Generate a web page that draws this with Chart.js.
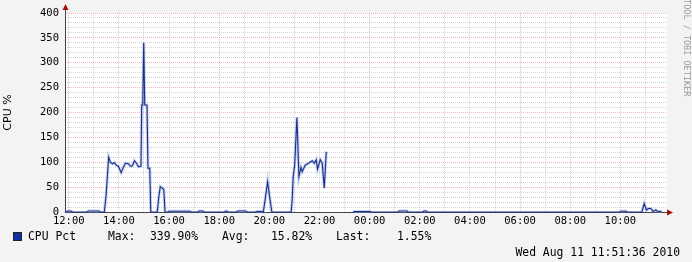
<!DOCTYPE html>
<html lang="en">
<head>
<meta charset="UTF-8">
<title>CPU Pct</title>
<script src="https://cdn.jsdelivr.net/npm/chart.js@4"></script>
<style>
  html, body { margin: 0; padding: 0; background: #f3f3f3; }
  canvas { display: block; }
</style>
</head>
<body>
<canvas id="cpuChart" width="692" height="262"></canvas>
<script>
  // hours after 12:00 (Aug 10) and CPU %, null = no data
  const hours = [
    -0.15, -0.01, 0.07, 0.15, 0.72, 0.79, 1.19, 1.27, 1.42, 1.49,
    1.59, 1.66, 1.74, 1.82, 1.90, 1.98, 2.09, 2.18, 2.26, 2.38,
    2.46, 2.54, 2.62, 2.70, 2.78, 2.88, 2.91, 2.95, 2.99, 3.03,
    3.12, 3.16, 3.23, 3.27, 3.53, 3.59, 3.65, 3.73, 3.79, 3.84,
    3.97, 4.01, 4.81, 4.89, 5.13, 5.21, 5.33, 5.41, 6.20, 6.28,
    6.36, 6.68, 6.76, 7.04, 7.12, 7.44, 7.52, 7.72, 7.76, 7.85,
    7.93, 8.01, 8.10, 8.87, 8.91, 8.95, 9.01, 9.10, 9.18, 9.26,
    9.31, 9.43, 9.56, 9.71, 9.79, 9.87, 9.92, 10.03, 10.11, 10.19,
    10.27, 10.8, 11.34, 11.38, 12.02, 12.06, 13.14, 13.18, 13.49, 13.53,
    14.13, 14.17, 14.25, 14.29, 21.98, 22.02, 22.22, 22.26, 22.86, 22.95,
    23.04, 23.12, 23.22, 23.30, 23.41, 23.49, 23.65
  ];
  const cpuPct = [
    0, 2, 2, 0, 0, 2, 2, 0, 0, 34,
    110, 100, 97, 99, 94, 92, 79, 90, 98, 97,
    92, 93, 103, 98, 91, 92, 215, 215, 340, 215,
    215, 88, 88, 0, 0, 30, 51, 48, 45, 0,
    0, 1.5, 1.5, 0, 0, 2, 2, 0, 0, 2,
    0, 0, 2, 2, 0, 0, 1, 1, 0, 31,
    61, 31, 0, 0, 24, 71, 94, 190, 71, 90,
    81, 94, 98, 103, 98, 105, 86, 105, 98, 48,
    121, null, 0, 1, 1, 0, 0, 2, 2, 0,
    0, 2, 2, 0, 0, 1.5, 1.5, 0, 0, 17,
    4, 7, 7, 1, 4, 1, 1.55
  ];
  const tickLabels = ['12:00', '14:00', '16:00', '18:00', '20:00', '22:00',
                      '00:00', '02:00', '04:00', '06:00', '08:00', '10:00'];
  const seriesName = 'CPU Pct';
  const legendStats = [['Max:', '339.90%'], ['Avg:', '15.82%'], ['Last:', '1.55%']];
  const stamp = 'Wed Aug 11 11:51:36 2010';

  const points = hours.map((h, i) => ({ x: h, y: cpuPct[i] }));
  const minorGrid = 'rgba(175,175,175,0.55)';
  const majorGrid = 'rgba(215,120,120,0.5)';
  const mono = "'DejaVu Sans Mono', monospace";

  Chart.defaults.font.family = mono;
  Chart.defaults.color = '#000';

  const rrdLook = {
    id: 'rrdLook',
    beforeDraw(chart) {
      const c = chart.ctx, a = chart.chartArea;
      c.save();
      c.fillStyle = '#f3f3f3';
      c.fillRect(0, 0, chart.width, chart.height);
      c.fillStyle = '#ffffff';
      c.fillRect(a.left, a.top, a.right - a.left, a.bottom - a.top);
      c.restore();
    },
    beforeDatasetsDraw(chart) {
      const c = chart.ctx, a = chart.chartArea;
      const x0 = Math.round(a.left) + 0.5, y0 = Math.round(a.bottom) + 0.5;
      c.save();
      c.strokeStyle = '#444';
      c.lineWidth = 1;
      c.beginPath();
      c.moveTo(x0, y0); c.lineTo(a.right + 2, y0);
      c.moveTo(x0, y0); c.lineTo(x0, a.top - 4);
      c.stroke();
      c.fillStyle = '#a01010';
      c.beginPath();
      c.moveTo(x0, a.top - 9); c.lineTo(x0 - 3, a.top - 3); c.lineTo(x0 + 3, a.top - 3);
      c.closePath(); c.fill();
      c.beginPath();
      c.moveTo(a.right + 6, y0); c.lineTo(a.right, y0 - 3); c.lineTo(a.right, y0 + 3);
      c.closePath(); c.fill();
      c.restore();
    },
    afterDraw(chart) {
      const c = chart.ctx;
      c.save();
      // legend
      c.fillStyle = '#1030a8';
      c.fillRect(13, 232, 9, 9);
      c.strokeStyle = '#202020';
      c.lineWidth = 1;
      c.strokeRect(13.5, 232.5, 8, 8);
      c.fillStyle = '#000';
      c.font = '11.4px ' + mono;
      c.textBaseline = 'middle';
      c.fillText(seriesName, 28, 237);
      const xs = [[108, 150], [222, 271], [336, 397]];
      legendStats.forEach((s, i) => {
        c.fillText(s[0], xs[i][0], 237);
        c.fillText(s[1], xs[i][1], 237);
      });
      c.textAlign = 'right';
      c.fillText(stamp, 680, 253);
      // watermark
      c.translate(686, 40);
      c.rotate(Math.PI / 2);
      c.textAlign = 'center';
      c.fillStyle = '#9a9a9a';
      c.font = '8.5px ' + mono;
      c.fillText('RRDTOOL / TOBI OETIKER', 0, 0);
      c.restore();
    }
  };

  new Chart(document.getElementById('cpuChart'), {
    type: 'line',
    data: {
      datasets: [
        {
          label: seriesName,
          data: points,
          borderColor: '#1a2f85',
          borderWidth: 1.1,
          pointRadius: 0,
          spanGaps: false,
          clip: 4
        },
        {
          label: seriesName + ' shade',
          data: points,
          borderColor: 'rgba(110,145,225,0.4)',
          borderWidth: 3,
          pointRadius: 0,
          spanGaps: false,
          clip: 4,
          segment: {
            borderColor: ctx => (ctx.p0.parsed.y === 0 && ctx.p1.parsed.y === 0) ? 'rgba(0,0,0,0)' : undefined
          }
        }
      ]
    },
    options: {
      responsive: false,
      animation: false,
      devicePixelRatio: 1,
      layout: { padding: { left: 0, top: 13, right: 25, bottom: 0 } },
      plugins: { legend: { display: false }, tooltip: { enabled: false } },
      scales: {
        x: {
          type: 'linear',
          min: -0.15,
          max: 23.86,
          afterFit: s => { s.height = 50; },
          afterBuildTicks: s => {
            s.ticks = Array.from({ length: 24 }, (_, h) => ({ value: h }));
          },
          grid: {
            drawTicks: false,
            color: ctx => (ctx.tick && ctx.tick.value % 6 === 0) ? majorGrid : minorGrid
          },
          border: { display: false, dash: [1, 1] },
          ticks: {
            autoSkip: false,
            maxRotation: 0,
            padding: 3,
            font: { size: 10.5 },
            callback: v => v % 2 === 0 ? tickLabels[v / 2] : ''
          }
        },
        y: {
          min: 0,
          max: 400,
          afterFit: s => { s.width = 65; },
          grid: {
            drawTicks: false,
            color: ctx => (ctx.tick && ctx.tick.value % 50 === 0) ? majorGrid : minorGrid
          },
          border: { display: false, dash: [1, 1] },
          title: {
            display: true,
            text: 'CPU %',
            font: { family: "'DejaVu Sans', sans-serif", size: 11 },
            padding: { top: 2, bottom: 0 }
          },
          ticks: {
            stepSize: 10,
            autoSkip: false,
            padding: 6,
            font: { size: 10.5 },
            callback: v => v % 50 === 0 ? v : ''
          }
        }
      }
    },
    plugins: [rrdLook]
  });
</script>
</body>
</html>
